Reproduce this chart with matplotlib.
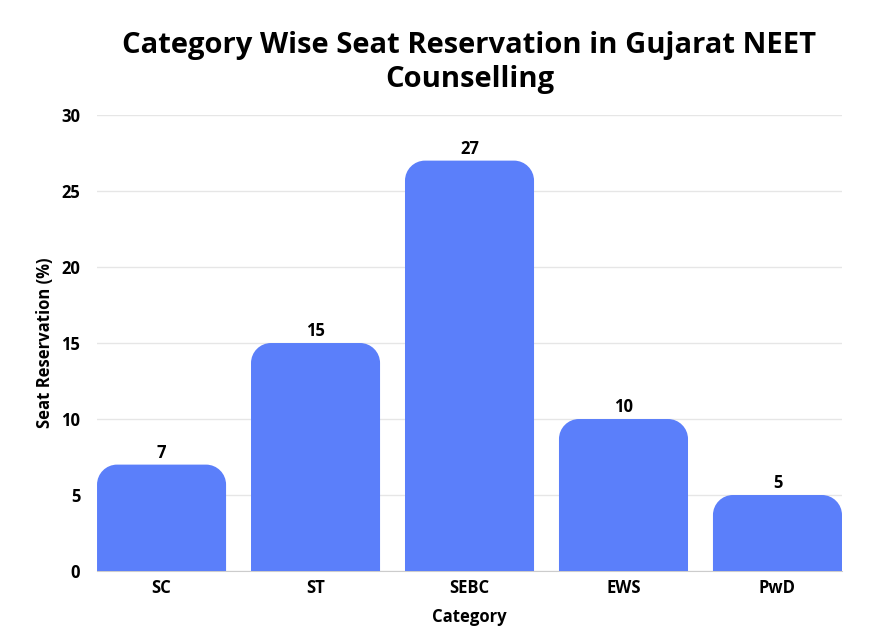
import matplotlib.pyplot as plt
from matplotlib.path import Path
from matplotlib.patches import PathPatch

categories = ["SC", "ST", "SEBC", "EWS", "PwD"]
reservation = [7, 15, 27, 10, 5]
yticks = [0, 5, 10, 15, 20, 25, 30]

bar_color = "#5b7ffa"
font = ["Open Sans", "DejaVu Sans"]

fig = plt.figure(figsize=(8.71, 6.32), dpi=100)
ax = fig.add_axes([0.1114, 0.0965, 0.8553, 0.7215])

width = 0.838
ax.set_xlim(-width / 2, len(categories) - 1 + width / 2)
ax.set_ylim(0, 30)

# rounded top corners, radius ~20px in both directions
rx = 0.13
ry = 1.32
k = 0.5523
for i, v in enumerate(reservation):
    x0 = i - width / 2
    x1 = i + width / 2
    verts = [
        (x0, 0), (x0, v - ry),
        (x0, v - ry + k * ry), (x0 + rx - k * rx, v), (x0 + rx, v),
        (x1 - rx, v),
        (x1 - rx + k * rx, v), (x1, v - ry + k * ry), (x1, v - ry),
        (x1, 0), (x0, 0),
    ]
    codes = [Path.MOVETO, Path.LINETO,
             Path.CURVE4, Path.CURVE4, Path.CURVE4,
             Path.LINETO,
             Path.CURVE4, Path.CURVE4, Path.CURVE4,
             Path.LINETO, Path.CLOSEPOLY]
    ax.add_patch(PathPatch(Path(verts, codes), facecolor=bar_color,
                           edgecolor="none", zorder=3))
    ax.annotate(str(v), (i, v), xytext=(0, 2), textcoords="offset points",
                ha="center", va="bottom", fontsize=12, fontweight="bold",
                family=font)

ax.set_yticks(yticks)
ax.set_yticklabels([str(t) for t in yticks], fontsize=12, fontweight="bold", family=font)
ax.set_xticks(range(len(categories)))
ax.set_xticklabels(categories, fontsize=12, fontweight="bold", family=font)
ax.tick_params(axis="y", length=0, pad=12)
ax.tick_params(axis="x", length=0, pad=6)

ax.grid(axis="y", color="#e6e6e6", linewidth=1, zorder=0)
ax.set_axisbelow(True)
for s in ["top", "right", "left"]:
    ax.spines[s].set_visible(False)
ax.spines["bottom"].set_color("#cccccc")

ax.set_xlabel("Category", fontsize=12, fontweight="bold", family=font, labelpad=8)
ax.set_ylabel("Seat Reservation (%)", fontsize=12, fontweight="bold", family=font, labelpad=5)
ax.set_title("Category Wise Seat Reservation in Gujarat NEET\nCounselling",
             fontsize=21, fontweight="bold", family=font, pad=20, linespacing=1.25)

fig.savefig("out.png", dpi=100)
